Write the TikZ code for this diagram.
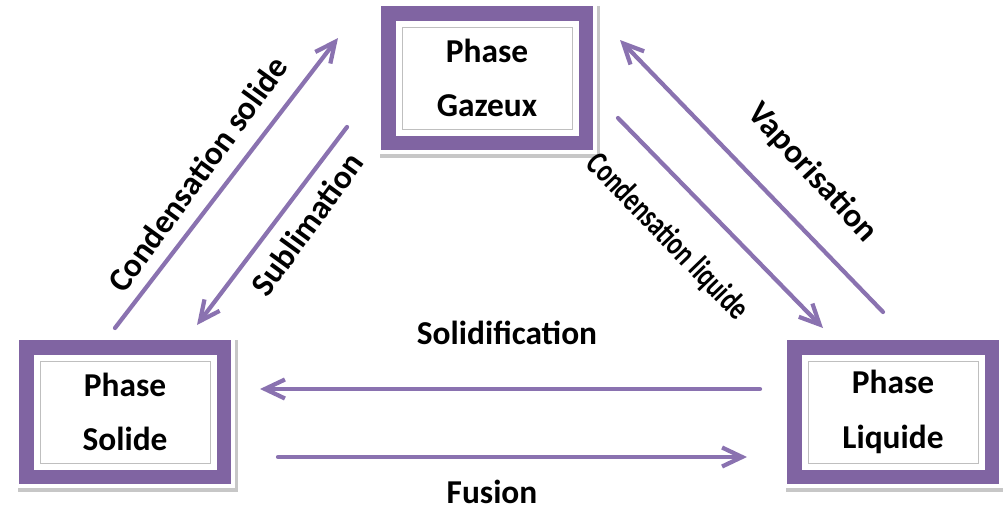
\documentclass[tikz,border=0pt]{standalone}
\usepackage{fontspec}
\setmainfont{Carlito}
\newfontfamily\serre[FakeStretch=0.74]{Carlito}
\usetikzlibrary{arrows.meta}

\definecolor{lilas}{RGB}{128,100,162}
\definecolor{lilasclair}{RGB}{138,114,176}

\begin{document}
\begin{tikzpicture}[
        phase/.style={rectangle, fill=white, draw=black!25, line width=0.5pt,
            minimum width=3.4cm, minimum height=2.04cm, align=center,
            font=\fontsize{19}{31}\selectfont\bfseries,
            preaction={draw=black!22, line width=1.0cm, transform canvas={shift={(0.05,-0.07)}}},
            preaction={draw=white, line width=1.0cm},
            preaction={draw=lilas, line width=0.84cm},
            preaction={draw=white, line width=0.26cm}},
        fleche/.style={draw=lilasclair, line width=2.4pt, line cap=round,
            -{Straight Barb[length=4mm, width=3.8mm]}},
        etiq/.style={font=\fontsize{19}{22}\selectfont\bfseries, inner sep=0pt}
    ]
        \useasboundingbox (0,0) rectangle (20.06,10.12);

        \node[phase] (gaz) at (9.74,8.56) {Phase\\Gazeux};
        
        \node[phase] (sol) at (2.5,1.88) {Phase\\Solide};
        
        \node[phase] (liq) at (17.86,1.88) {Phase\\Liquide};

        \coordinate (cs1) at (2.30,3.56);
        \coordinate (cs2) at (6.76,9.36);
        \coordinate (sub1) at (6.94,7.58);
        \coordinate (sub2) at (3.94,3.62);
        \coordinate (cl1) at (12.36,7.76);
        \coordinate (cl2) at (16.46,3.56);
        \coordinate (vap1) at (17.66,3.88);
        \coordinate (vap2) at (12.40,9.32);
        \coordinate (sdf1) at (15.20,2.34);
        \coordinate (sdf2) at (5.20,2.34);
        \coordinate (fus1) at (5.56,0.98);
        \coordinate (fus2) at (14.94,0.98);

        \draw[fleche] (cs1) -- (cs2);
        \draw[fleche] (sub1) -- (sub2);
        \draw[fleche] (cl1) -- (cl2);
        \draw[fleche] (vap1) -- (vap2);
        \draw[fleche] (sdf1) -- (sdf2);
        \draw[fleche] (fus1) -- (fus2);

        \node[etiq, rotate=54] (lcs) at (3.95,6.64) {Condensation solide};
        \node[etiq, rotate=54] (lsub) at (6.14,5.64) {Sublimation};
        \node[etiq, rotate=-46, font=\fontsize{19}{22}\serre\bfseries] (lcl) at (13.34,5.38) {Condensation liquide};
        \node[etiq, rotate=-47.5] (lvap) at (16.24,6.66) {Vaporisation};
        \node[etiq] (lsdf) at (10.14,3.46) {Solidification};
        \node[etiq, anchor=base] (lfus) at (9.84,0.06) {Fusion};
    \end{tikzpicture}
\end{document}
